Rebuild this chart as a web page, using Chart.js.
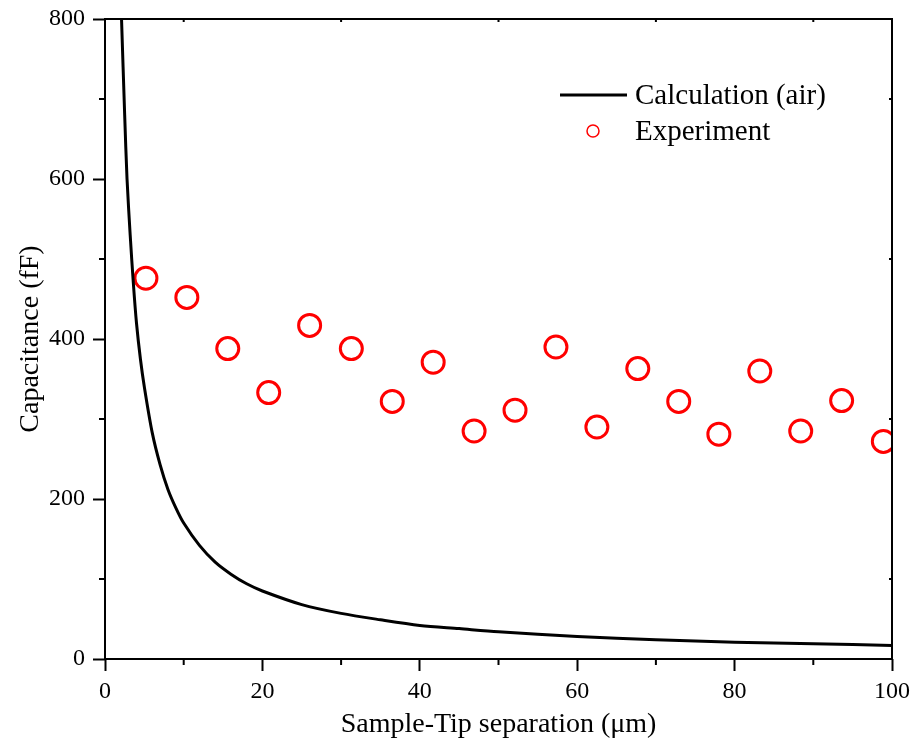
<!DOCTYPE html>
<html>
<head>
<meta charset="utf-8">
<script src="https://cdn.jsdelivr.net/npm/chart.js@4.4.0/dist/chart.umd.min.js"></script>
<style>
  html, body { margin: 0; padding: 0; background: #fff; }
  #wrap { width: 914px; height: 745px; }
</style>
</head>
<body>
<div id="wrap"><canvas id="cap_chart" width="914" height="745"></canvas></div>
<script>
// Calculation (air) curve
var calcX = [2.1, 2.5, 2.8, 3.2, 3.6, 4, 4.5, 5, 6, 7, 8, 9, 10, 12, 14, 16, 18, 20, 25, 30, 35, 40, 45, 50, 60, 70, 80, 90, 100];
var calcY = [800, 680, 600, 530, 470, 420, 375, 340, 283, 243, 212, 189, 170, 142, 121, 106, 94, 85, 68, 57, 49, 42, 38, 34, 28, 24, 21, 19, 17];

// Experiment points
var expX = [5.2, 10.4, 15.6, 20.8, 26.0, 31.3, 36.5, 41.7, 46.9, 52.1, 57.3, 62.5, 67.7, 72.9, 78.0, 83.2, 88.4, 93.6, 98.9];
var expY = [476, 452, 388, 333, 417, 388, 322, 371, 285, 311, 390, 290, 363, 322, 281, 360, 285, 323, 272];

var xTicks = [0, 20, 40, 60, 80, 100];
var yTicks = [0, 200, 400, 600, 800];

function pairs(xs, ys) {
  return xs.map(function (x, i) { return { x: x, y: ys[i] }; });
}

var FONT = 'Liberation Serif';

// frame, minor ticks and legend
var extras = {
  id: 'extras',
  afterDraw: function (chart) {
    var ctx = chart.ctx;
    var a = chart.chartArea;
    var xs = chart.scales.x, ys = chart.scales.y;
    ctx.save();
    ctx.strokeStyle = '#000';
    ctx.lineWidth = 2;
    ctx.strokeRect(a.left, a.top, a.right - a.left, a.bottom - a.top);

    // minor ticks outside on bottom/left, small ones inside on top/right
    ctx.beginPath();
    for (var v = 10; v < 100; v += 20) {
      var px = xs.getPixelForValue(v);
      ctx.moveTo(px, a.bottom); ctx.lineTo(px, a.bottom + 6);
      ctx.moveTo(px, a.top); ctx.lineTo(px, a.top + 3);
    }
    for (var w = 100; w < 800; w += 200) {
      var py = ys.getPixelForValue(w);
      ctx.moveTo(a.left, py); ctx.lineTo(a.left - 6, py);
      ctx.moveTo(a.right, py); ctx.lineTo(a.right - 3, py);
    }
    ctx.stroke();

    // legend
    var ds = chart.data.datasets;
    ctx.font = '29px "' + FONT + '"';
    ctx.fillStyle = '#000';
    ctx.textBaseline = 'middle';
    ctx.beginPath();
    ctx.lineWidth = 3;
    ctx.moveTo(560, 95); ctx.lineTo(627, 95);
    ctx.stroke();
    ctx.fillText(ds[0].label, 635, 96);
    ctx.beginPath();
    ctx.strokeStyle = '#ff0000';
    ctx.lineWidth = 1.5;
    ctx.arc(593, 131, 6, 0, Math.PI * 2);
    ctx.stroke();
    ctx.fillText(ds[1].label, 635, 132);
    ctx.restore();
  }
};

var capChart = new Chart(document.getElementById('cap_chart'), {
  type: 'scatter',
  data: {
    datasets: [{
      label: 'Calculation (air)',
      data: pairs(calcX, calcY),
      showLine: true,
      borderColor: '#000',
      borderWidth: 3,
      pointRadius: 0,
      tension: 0.3,
      fill: false
    }, {
      label: 'Experiment',
      data: pairs(expX, expY),
      showLine: false,
      pointRadius: 11,
      pointBorderWidth: 3,
      pointBorderColor: '#ff0000',
      pointBackgroundColor: 'rgba(0,0,0,0)'
    }]
  },
  options: {
    responsive: false,
    animation: false,
    layout: { padding: { top: 19, right: 22, left: 10, bottom: 0 } },
    plugins: { legend: { display: false }, tooltip: { enabled: false } },
    scales: {
      x: {
        type: 'linear',
        min: 0, max: 100,
        afterBuildTicks: function (s) { s.ticks = xTicks.map(function (v) { return { value: v }; }); },
        afterFit: function (s) { s.height = 86; s.paddingLeft = 0; s.paddingRight = 0; },
        border: { display: false },
        grid: { drawOnChartArea: false, tickLength: 12, tickWidth: 2, tickColor: '#000' },
        ticks: { color: '#000', font: { family: FONT, size: 24 }, padding: 6, maxRotation: 0 },
        title: { display: true, text: 'Sample-Tip separation (\u03bcm)', color: '#000', font: { family: FONT, size: 28 }, padding: { top: 0 } }
      },
      y: {
        type: 'linear',
        min: 0, max: 800,
        afterBuildTicks: function (s) { s.ticks = yTicks.map(function (v) { return { value: v }; }); },
        afterFit: function (s) { s.width = 95; s.paddingTop = 0; s.paddingBottom = 0; },
        border: { display: false },
        grid: { drawOnChartArea: false, tickLength: 12, tickWidth: 2, tickColor: '#000' },
        ticks: { color: '#000', font: { family: FONT, size: 24 }, padding: 8 },
        title: { display: true, text: 'Capacitance (fF)', color: '#000', font: { family: FONT, size: 28 }, padding: { bottom: 4 } }
      }
    }
  },
  plugins: [extras]
});
</script>
</body>
</html>
